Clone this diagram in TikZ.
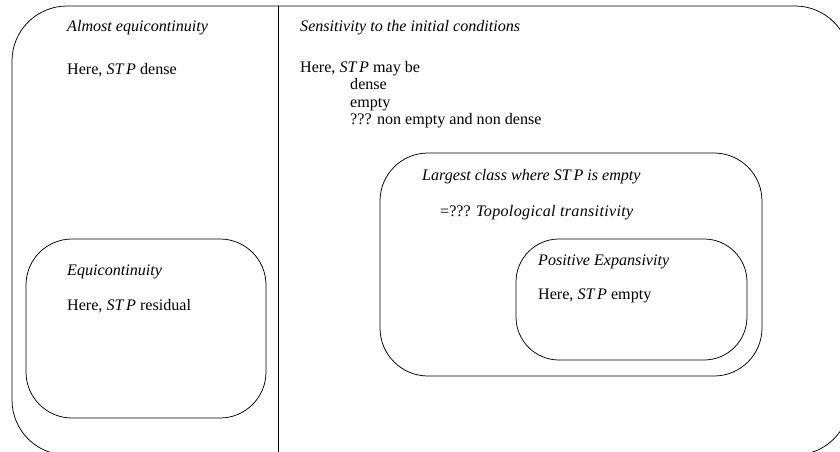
\documentclass[tikz,border=0pt]{standalone}
\usepackage{fontspec}
\setmainfont{Liberation Serif}
\begin{document}
\begin{tikzpicture}[x=1pt,y=-1pt,
  box/.style={draw, line width=0.75pt, rounded corners=#1, inner sep=0pt},
  lbl/.style={anchor=base west, inner sep=0pt, font=\fontsize{16.1}{19}\selectfont},
  ttl/.style={lbl, font=\fontsize{16.1}{19}\selectfont\itshape}]
\useasboundingbox (0,0) rectangle (840,451);
\clip (0,0) rectangle (840,451);
% outer frame
\node[box=55, minimum width=838pt, minimum height=449pt] (outer) at (431,230.5) {};
\coordinate (dtop) at (278,6);
\coordinate (dbot) at (278,455);
\draw[line width=0.75pt] (dtop) -- (dbot);
% inner boxes
\node[box=46, minimum width=240pt, minimum height=179pt] (eq) at (146,328.5) {};
\node[box=48, minimum width=382pt, minimum height=223pt] (lc) at (571,264.5) {};
\node[box=43, minimum width=231pt, minimum height=121pt] (pe) at (631.5,299.5) {};
% texts
\node[ttl] (t1) at (67,31) {Almost equicontinuity};
\node[lbl] (t2) at (67,74) {Here, \textit{ST\,P} dense};
\node[ttl] (t3) at (300,31) {Sensitivity to the initial conditions};
\node[lbl] (t4) at (300,72) {Here, \textit{ST\,P} may be};
\node[lbl] (t5) at (350,89.5) {dense};
\node[lbl] (t6) at (350,107) {empty};
\node[lbl] (t7) at (350,124.5) {??? non empty and non dense};
\node[ttl] (t8) at (422,180) {Largest class where \textit{ST\,P} is empty};
\node[lbl] (t9) at (440,216) {=??? \textit{\addfontfeature{LetterSpace=2}Topological transitivity}};
\node[ttl] (t10) at (538,265) {Positive Expansivity};
\node[lbl] (t11) at (538,299) {Here, \textit{ST\,P} empty};
\node[ttl] (t12) at (67,275) {Equicontinuity};
\node[lbl] (t13) at (67,310) {Here, \textit{ST\,P} residual};
\end{tikzpicture}
\end{document}
